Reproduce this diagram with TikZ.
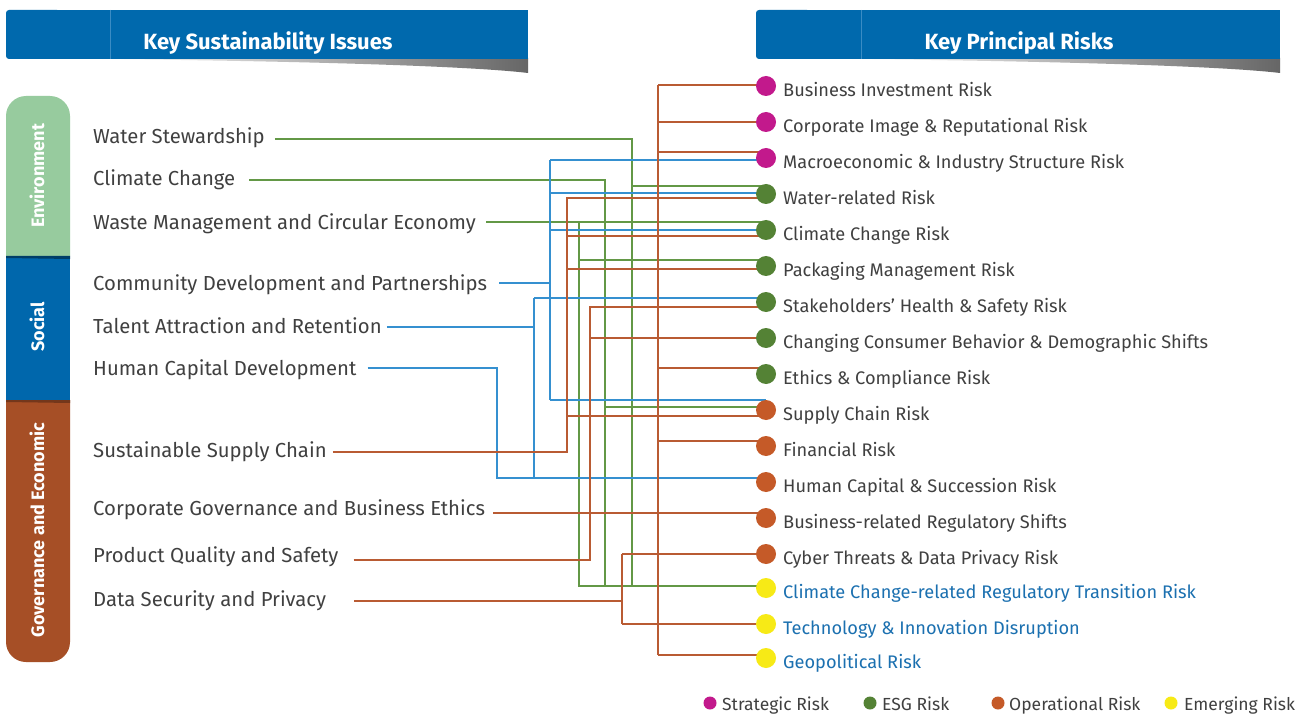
\documentclass[tikz,border=0pt]{standalone}
\usepackage{fontspec}
\setmainfont{Fira Sans}
\usetikzlibrary{calc}
\pgfdeclarelayer{back}
\pgfdeclarelayer{bg}
\pgfsetlayers{back,bg,main}
\definecolor{hdrblue}{HTML}{0069AD}
\definecolor{hdrdiv}{HTML}{3A8CC4}
\definecolor{envgreen}{HTML}{97CB9E}
\definecolor{socblue}{HTML}{0067AC}
\definecolor{govbrown}{HTML}{A64F26}
\definecolor{strat}{HTML}{C2198C}
\definecolor{esg}{HTML}{548235}
\definecolor{oper}{HTML}{C55A28}
\definecolor{emerg}{HTML}{F7EA16}
\definecolor{txtgray}{HTML}{404040}
\definecolor{emtxt}{HTML}{1B70B0}
\definecolor{lgreen}{HTML}{639846}
\definecolor{lblue}{HTML}{3590D0}
\definecolor{lorange}{HTML}{B95B33}
\begin{document}
\begin{tikzpicture}[x=1pt,y=-1pt,
  issue/.style={anchor=base west, text=txtgray, font=\fontsize{20.3}{24}\selectfont, inner sep=0pt},
  risktxt/.style={anchor=base west, text=txtgray, font=\fontsize{18.2}{22}\selectfont, inner sep=0pt},
  emtxtstyle/.style={risktxt, text=emtxt},
  legtxt/.style={anchor=base west, text=txtgray, font=\fontsize{17.5}{20}\selectfont, inner sep=0pt},
  dot/.style={circle, minimum size=20pt, inner sep=0pt, fill=#1},
  legdot/.style={circle, minimum size=13pt, inner sep=0pt, fill=#1},
  hdrtxt/.style={anchor=base, text=white, font=\bfseries\fontsize{22}{26}\selectfont, inner sep=0pt},
  tabtxt/.style={rotate=90, text=white, font=\bfseries\fontsize{18}{22}\selectfont, inner sep=0pt},
  gline/.style={draw=lgreen, line width=1.3pt},
  bline/.style={draw=lblue, line width=1.3pt},
  oline/.style={draw=lorange, line width=1.3pt},
]
\useasboundingbox (0,0) rectangle (1312,714);
\begin{pgfonlayer}{back}
\fill[white] (0,0) rectangle (1312,714);
\end{pgfonlayer}

% ---------- headers ----------
\shade[left color=white, right color=black!60] (100,58) -- (528,58) -- (528,73) .. controls (470,66) and (300,61) .. (100,59) -- cycle;
\fill[hdrblue, rounded corners=3pt] (6,10) rectangle (60,59);
\fill[hdrblue] (20,10) rectangle (528,59);
\draw[hdrdiv, line width=0.7pt] (110,10) -- (110,59);
\node[hdrtxt] (h1) at (268,50) {Key Sustainability Issues};

\shade[left color=white, right color=black!60] (850,58) -- (1280,58) -- (1280,73) .. controls (1222,66) and (1050,61) .. (850,59) -- cycle;
\fill[hdrblue, rounded corners=3pt] (756,10) rectangle (810,59);
\fill[hdrblue] (770,10) rectangle (1280,59);
\draw[hdrdiv, line width=0.7pt] (861,10) -- (861,59);
\node[hdrtxt] (h2) at (1019,50) {Key Principal Risks};

% ---------- category tabs ----------
\begin{scope}
  \clip (0,0) rectangle (80,256);
  \fill[envgreen, rounded corners=20pt] (6,96) rectangle (70,300);
\end{scope}
\fill[socblue] (6,256) rectangle (70,400);
\fill[socblue!60!black] (6,256) -- (70,256) -- (70,259) -- (6,258) -- cycle;
\begin{scope}
  \clip (0,400) rectangle (80,714);
  \fill[govbrown, rounded corners=20pt] (6,360) rectangle (70,662);
\end{scope}
\fill[govbrown!70!black] (6,400) -- (70,400) -- (70,403) -- (6,402) -- cycle;
\node[tabtxt] (tenv) at (37,176) {Environment};
\node[tabtxt] (tsoc) at (37,327) {Social};
\node[tabtxt] (tgov) at (37,530) {Governance and Economic};

% ---------- issues ----------
\node[issue] (ws) at (93,144) {Water Stewardship};
\node[issue] (cc) at (93,186) {Climate Change};
\node[issue] (wm) at (93,230) {Waste Management and Circular Economy};
\node[issue] (cd) at (93,290) {Community Development and Partnerships};
\node[issue] (ta) at (93,333) {Talent Attraction and Retention};
\node[issue] (hc) at (93,375) {Human Capital Development};
\node[issue] (ss) at (93,457) {Sustainable Supply Chain};
\node[issue] (cg) at (93,515) {Corporate Governance and Business Ethics};
\node[issue] (pq) at (93,562) {Product Quality and Safety};
\node[issue] (ds) at (93,606) {Data Security and Privacy};

\coordinate (ws0) at ($(ws.east)+(10,0)$);
\coordinate (cc0) at ($(cc.east)+(14,0)$);
\coordinate (wm0) at ($(wm.east)+(10,0)$);
\coordinate (cd0) at ($(cd.east)+(12,0)$);
\coordinate (ta0) at ($(ta.east)+(5,0)$);
\coordinate (hc0) at ($(hc.east)+(11,0)$);
\coordinate (ss0) at ($(ss.east)+(6,0)$);
\coordinate (cg0) at ($(cg.east)+(8,0)$);
\coordinate (pq0) at ($(pq.east)+(15,0)$);
\coordinate (ds0) at ($(ds.east)+(28,0)$);

% ---------- risks ----------
\node[dot=strat] (r1) at (766,86) {};
\node[dot=strat] (r2) at (766,122) {};
\node[dot=strat] (r3) at (766,158) {};
\node[dot=esg] (r4) at (766,194) {};
\node[dot=esg] (r5) at (766,230) {};
\node[dot=esg] (r6) at (766,266) {};
\node[dot=esg] (r7) at (766,302) {};
\node[dot=esg] (r8) at (766,338) {};
\node[dot=esg] (r9) at (766,374) {};
\node[dot=oper] (r10) at (766,410) {};
\node[dot=oper] (r11) at (766,446) {};
\node[dot=oper] (r12) at (766,482) {};
\node[dot=oper] (r13) at (766,518) {};
\node[dot=oper] (r14) at (766,554) {};
\node[dot=emerg] (r15) at (766,588) {};
\node[dot=emerg] (r16) at (766,624) {};
\node[dot=emerg] (r17) at (766,658) {};

\node[risktxt] (t1) at (783,96.5) {Business Investment Risk};
\node[risktxt] (t2) at (783,132.5) {Corporate Image \& Reputational Risk};
\node[risktxt] (t3) at (783,168.5) {Macroeconomic \& Industry Structure Risk};
\node[risktxt] (t4) at (783,204.5) {Water-related Risk};
\node[risktxt] (t5) at (783,240.5) {Climate Change Risk};
\node[risktxt] (t6) at (783,276.5) {Packaging Management Risk};
\node[risktxt] (t7) at (783,312.5) {Stakeholders' Health \& Safety Risk};
\node[risktxt] (t8) at (783,348.5) {Changing Consumer Behavior \& Demographic Shifts};
\node[risktxt] (t9) at (783,384.5) {Ethics \& Compliance Risk};
\node[risktxt] (t10) at (783,420.5) {Supply Chain Risk};
\node[risktxt] (t11) at (783,456.5) {Financial Risk};
\node[risktxt] (t12) at (783,492.5) {Human Capital \& Succession Risk};
\node[risktxt] (t13) at (783,528.5) {Business-related Regulatory Shifts};
\node[risktxt] (t14) at (783,564.5) {Cyber Threats \& Data Privacy Risk};
\node[emtxtstyle] (t15) at (783,598.5) {Climate Change-related Regulatory Transition Risk};
\node[emtxtstyle] (t16) at (783,634.5) {Technology \& Innovation Disruption};
\node[emtxtstyle] (t17) at (783,668.5) {Geopolitical Risk};

% ---------- connectors ----------
\begin{pgfonlayer}{bg}
% Environment (green)
\draw[gline] (ws0 |- 0,139) -- (632,139) -- (632,586);
\draw[gline] (632,186) -- (r4 |- 0,186);
\draw[gline] (cc0 |- 0,180) -- (605,180) -- (605,586);
\draw[gline] (605,407) -- (r10 |- 0,407);
\draw[gline] (wm0 |- 0,222) -- (r5 |- 0,222);
\draw[gline] (579,222) -- (579,586) -- (r15 |- 0,586);
\draw[gline] (579,260) -- (r6 |- 0,260);
% Social (blue)
\draw[bline] (cd0 |- 0,283) -- (550,283);
\draw[bline] (550,160) -- (550,400);
\draw[bline] (550,160) -- (r3 |- 0,160);
\draw[bline] (550,193) -- (r4 |- 0,193);
\draw[bline] (550,230) -- (r5 |- 0,230);
\draw[bline] (550,400) -- (r10 |- 0,400);
\draw[bline] (ta0 |- 0,327) -- (534,327);
\draw[bline] (534,298) -- (534,478);
\draw[bline] (534,298) -- (r7 |- 0,298);
\draw[bline] (hc0 |- 0,368) -- (497,368) -- (497,478) -- (r12 |- 0,478);
% Governance (orange)
\draw[oline] (ss0 |- 0,452) -- (567,452) -- (567,198) -- (r4 |- 0,198);
\draw[oline] (567,236) -- (r5 |- 0,236);
\draw[oline] (567,269) -- (r6 |- 0,269);
\draw[oline] (567,416) -- (r10 |- 0,416);
\draw[oline] (cg0 |- 0,513) -- (r13 |- 0,513);
\draw[oline] (658,85) -- (658,655);
\draw[oline] (658,85) -- (r1 |- 0,85);
\draw[oline] (658,122) -- (r2 |- 0,122);
\draw[oline] (658,152) -- (r3 |- 0,152);
\draw[oline] (658,368) -- (r9 |- 0,368);
\draw[oline] (658,441) -- (r11 |- 0,441);
\draw[oline] (658,655) -- (r17 |- 0,655);
\draw[oline] (pq0 |- 0,560) -- (590,560) -- (590,307) -- (r7 |- 0,307);
\draw[oline] (590,338) -- (r8 |- 0,338);
\draw[oline] (ds0 |- 0,601) -- (622,601);
\draw[oline] (622,554) -- (622,624);
\draw[oline] (622,554) -- (r14 |- 0,554);
\draw[oline] (622,624) -- (r16 |- 0,624);
\end{pgfonlayer}

% ---------- legend ----------
\node[legdot=strat] (l1) at (710,703) {};
\node[legtxt] (lt1) at (722,710) {Strategic Risk};
\node[legdot=esg] (l2) at (870,703) {};
\node[legtxt] (lt2) at (882,710) {ESG Risk};
\node[legdot=oper] (l3) at (998,703) {};
\node[legtxt] (lt3) at (1009,710) {Operational Risk};
\node[legdot=emerg] (l4) at (1171,703) {};
\node[legtxt] (lt4) at (1184,710) {Emerging Risk};
\end{tikzpicture}
\end{document}
